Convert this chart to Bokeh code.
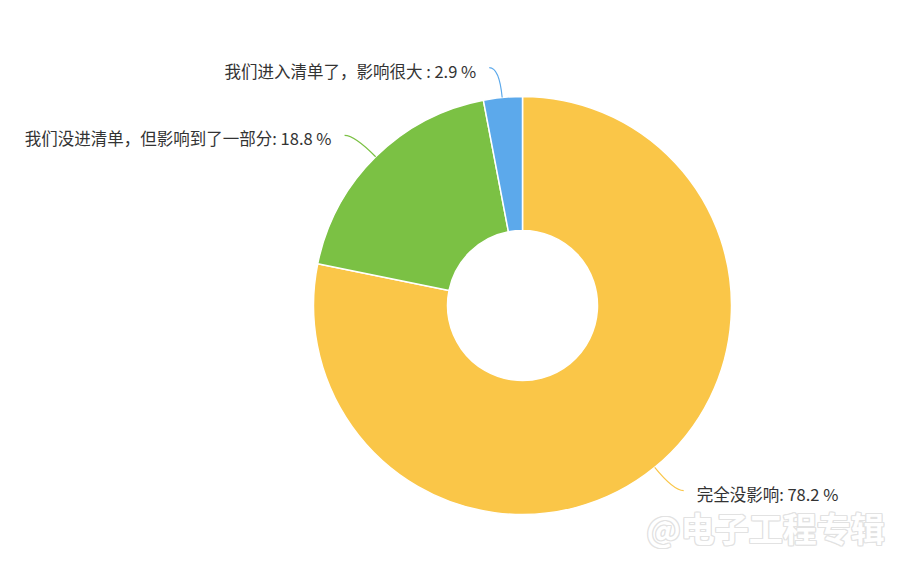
import math
from bokeh.plotting import figure
from bokeh.models import Range1d, ColumnDataSource
from bokeh.core.properties import value
from bokeh.embed import file_html
from bokeh.resources import INLINE

categories = ["完全没影响", "我们没进清单，但影响到了一部分", "我们进入清单了，影响很大 "]
values = [78.2, 18.8, 2.9]
colors = ["#FAC648", "#7BC144", "#5CA9EB"]

W, H = 894, 557
p = figure(width=W, height=H, output_backend="svg", toolbar_location=None,
           x_range=Range1d(0, W), y_range=Range1d(0, H), min_border=0)
p.axis.visible = False
p.grid.visible = False
p.outline_line_color = None
p.background_fill_color = "white"

cx, cy = 522, 252
R_out, R_in = 209, 75
total = 100.0

starts, ends, mids = [], [], []
acc = 0.0
for v in values:
    a0 = math.pi / 2 - 2 * math.pi * acc / total
    acc += v
    a1 = math.pi / 2 - 2 * math.pi * acc / total
    starts.append(a0)
    ends.append(a1)
    mids.append((a0 + a1) / 2)
ends[-1] = math.pi / 2 - 2 * math.pi

src = ColumnDataSource(dict(start=starts, end=ends, color=colors))
p.annular_wedge(x=cx, y=cy, inner_radius=R_in, outer_radius=R_out,
                inner_radius_units="screen", outer_radius_units="screen",
                start_angle="start", end_angle="end", direction="clock",
                fill_color="color", line_color="white", line_width=1.5, source=src)

font = value("Noto Sans CJK SC")
ext = 30
for cat, v, col, m in zip(categories, values, colors, mids):
    dx, dy = math.cos(m), math.sin(m)
    x0, y0 = cx + R_out * dx, cy + R_out * dy
    xc, yc = cx + (R_out + ext) * dx, cy + (R_out + ext) * dy
    side = 1 if dx >= 0 else -1
    x1, y1 = xc + side * 10, yc
    p.quadratic(x0=[x0], y0=[y0], x1=[x1], y1=[y1], cx=[xc], cy=[yc],
                line_color=col, line_width=1.2)
    label = f"{cat}: {v} %"
    p.text(x=[x1 + side * 13], y=[y1 - 3], text=[label],
           text_align="left" if side > 0 else "right", text_baseline="middle",
           text_font=font, text_font_size="16.5px", text_color="#333333")

wm = "@电子工程专辑"
for ox, oy in [(-1, 0), (1, 0), (0, -1), (0, 1), (1, 1), (-1, -1), (1, -1), (-1, 1)]:
    p.text(x=[646 + ox], y=[30 + oy], text=[wm], text_align="left", text_baseline="middle",
           text_font=font, text_font_size="34px", text_font_style="bold",
           text_color="#e2e2e2")
p.text(x=[646], y=[30], text=[wm], text_align="left", text_baseline="middle",
       text_font=font, text_font_size="34px", text_font_style="bold", text_color="#ffffff")

open("out.html", "w").write(file_html(p, INLINE))
